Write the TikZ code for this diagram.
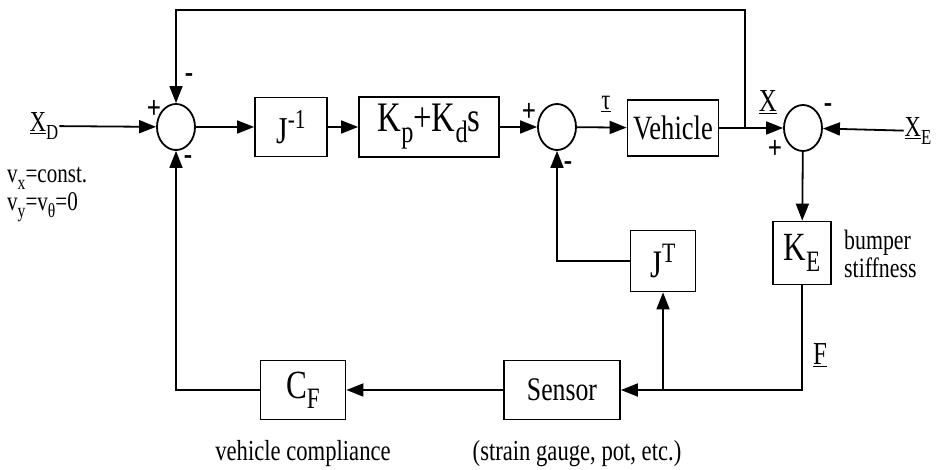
\documentclass[tikz,border=0pt]{standalone}
\usepackage{fontspec}
\setmainfont{Liberation Serif}[FakeStretch=0.78]
\usetikzlibrary{arrows.meta,shapes.geometric}

% large, low subscripts and high superscripts as in the drawing
\newcommand{\lsub}[1]{\raisebox{-0.26em}{\scalebox{0.74}{#1}}}
\newcommand{\hsup}[1]{\raisebox{0.40em}{\scalebox{0.72}{#1}}}

\begin{document}
\begin{tikzpicture}[
  x=1pt, y=-1pt,
  sig/.style={line width=1.8pt, -{Triangle[length=17pt,width=13pt]}},
  blk/.style={draw, line width=1.8pt, inner sep=0pt, font=\fontsize{33}{35}\selectfont},
  sumjct/.style={draw, ellipse, line width=1.8pt, minimum width=38pt, minimum height=46pt, inner sep=0pt},
  lbl/.style={font=\fontsize{29}{31}\selectfont, inner sep=1pt},
  sgn/.style={font=\fontsize{32}{32}\selectfont\bfseries, inner sep=0pt}
]
\useasboundingbox (0,0) rectangle (938,470);

%% -- Forward path (top row) ---------------------------------------------------

\node[lbl] (xd) at (44,126) {\underline{X}\lsub{D}};
\node[sumjct] (sumin) at (176,127) {};
\node[blk, minimum width=72pt, minimum height=59pt, font=\fontsize{38}{40}\selectfont] (jinv) at (291,127) {J\hsup{-1}};
\node[blk, minimum width=140pt, minimum height=60pt, font=\fontsize{42}{44}\selectfont] (pd) at (429,127) {K\lsub{p}+K\lsub{d}s};
\node[sumjct] (sumtau) at (557,127) {};
\node[blk, minimum width=91pt, minimum height=56pt, font=\fontsize{34}{36}\selectfont] (vehicle) at (673,128) {Vehicle};
\node[sumjct] (sumx) at (803,128) {};
\node[lbl] (xe) at (918,131) {\underline{X}\lsub{E}};
\coordinate (xbr) at (745,128);

% signs
\node[sgn] (s1) at (154,109) {+};
\node[sgn] (s2) at (189,78) {-};
\node[sgn] (s3) at (188,160) {-};
\node[sgn] (s4) at (529,112) {+};
\node[sgn] (s5) at (568,166) {-};
\node[sgn] (s6) at (828,108) {-};
\node[sgn] (s7) at (775,149) {+};

% signal names
\node[lbl] (tau) at (606,104) {\underline{τ}};
\node[lbl, font=\fontsize{32}{34}\selectfont] (xvar) at (768,102) {\underline{X}};

%% -- Feedback blocks -----------------------------------------------------------

\node[blk, minimum width=58pt, minimum height=63pt, font=\fontsize{40}{42}\selectfont] (ke) at (802,253) {K\lsub{E}};
\node[blk, minimum width=65pt, minimum height=61pt, font=\fontsize{39}{41}\selectfont] (jt) at (663,261) {J\hsup{T}};
\node[blk, minimum width=116pt, minimum height=59pt] (sensor) at (562,390) {Sensor};
\node[blk, minimum width=85pt, minimum height=59pt, font=\fontsize{40}{42}\selectfont] (cf) at (303,390) {C\lsub{F}};
\coordinate (fbr) at (663,390);

\node[lbl, font=\fontsize{32}{34}\selectfont] (fvar) at (820,355) {\underline{F}};

%% -- Notes ---------------------------------------------------------------------

\node[lbl, anchor=west, font=\fontsize{27}{29}\selectfont] (vx) at (6,178) {v\lsub{x}=const.};
\node[lbl, anchor=west, font=\fontsize{27}{29}\selectfont] (vy) at (6,207) {v\lsub{y}=v\lsub{θ}=0};
\node[lbl, anchor=west, align=left, font=\fontsize{28}{28}\selectfont] (bump) at (843,254) {bumper\\stiffness};
\node[lbl] (comp) at (303,454) {vehicle compliance};
\node[lbl] (gauge) at (577,454) {(strain gauge, pot, etc.)};

%% -- Connections ---------------------------------------------------------------

\draw[sig] (xd) -- (sumin);
\draw[sig] (sumin) -- (jinv);
\draw[sig] (jinv) -- (pd);
\draw[sig] (pd) -- (sumtau);
\draw[sig] (sumtau) -- (vehicle);
\draw[sig] (vehicle) -- (sumx);
\draw[sig] (xe) -- (sumx);

% outer position loop
\draw[sig] (xbr) -- (xbr |- 0,10) -| (sumin.north);

% environment force path
\draw[sig] (sumx) -- (ke);
\draw[sig] (ke.south) |- (sensor.east);
\draw[sig] (fbr) -- (jt.south);
\draw[sig] (jt.west) -| (sumtau.south);
\draw[sig] (sensor) -- (cf);
\draw[sig] (cf.west) -| (sumin.south);

\end{tikzpicture}
\end{document}
